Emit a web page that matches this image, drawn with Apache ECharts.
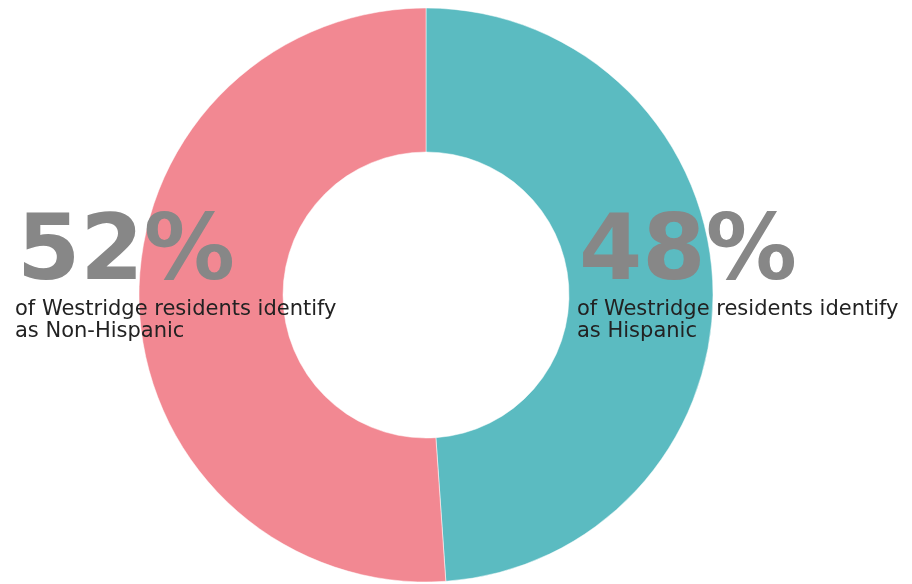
<!DOCTYPE html>
<html>
<head>
<meta charset="utf-8">
<script src="https://cdn.jsdelivr.net/npm/echarts@6/dist/echarts.min.js"></script>
<style>
  html, body { margin: 0; padding: 0; background: #fff; }
  #chart { width: 912px; height: 584px; }
</style>
</head>
<body>
<div id="chart"></div>
<script>
const categories = ['Hispanic', 'Non-Hispanic'];
// slice sizes as drawn in the picture, and the rounded labels printed next to them
const sliceValues = [48.9, 51.1];
const percentLabels = ['48%', '52%'];
const colors = ['#5bbbc1', '#f28892'];

const chart = echarts.init(document.getElementById('chart'));

// big percentage + caption for each group
const labelPos = { 'Non-Hispanic': [15, 210], 'Hispanic': [577, 210] };
const texts = [];
categories.forEach((name, i) => {
  const [x, y] = labelPos[name];
  texts.push({
    type: 'text', left: x + 2, top: y, z: 100,
    style: {
      text: percentLabels[i],
      font: 'bold 91px "DejaVu Sans"',
      fill: '#878787'
    }
  });
  texts.push({
    type: 'text', left: x, top: y + 89, z: 100,
    style: {
      text: 'of Westridge residents identify\nas ' + name,
      font: '21px "DejaVu Sans"',
      lineHeight: 22,
      fill: '#222'
    }
  });
});

chart.setOption({
  animation: false,
  series: [{
    type: 'pie',
    center: [426, 295],
    radius: [143, 287],
    startAngle: 90,
    clockwise: true,
    label: { show: false },
    labelLine: { show: false },
    itemStyle: { borderColor: '#fff', borderWidth: 0.5 },
    data: categories.map((name, i) => ({
      name, value: sliceValues[i], itemStyle: { color: colors[i] }
    }))
  }],
  graphic: texts
});
</script>
</body>
</html>
